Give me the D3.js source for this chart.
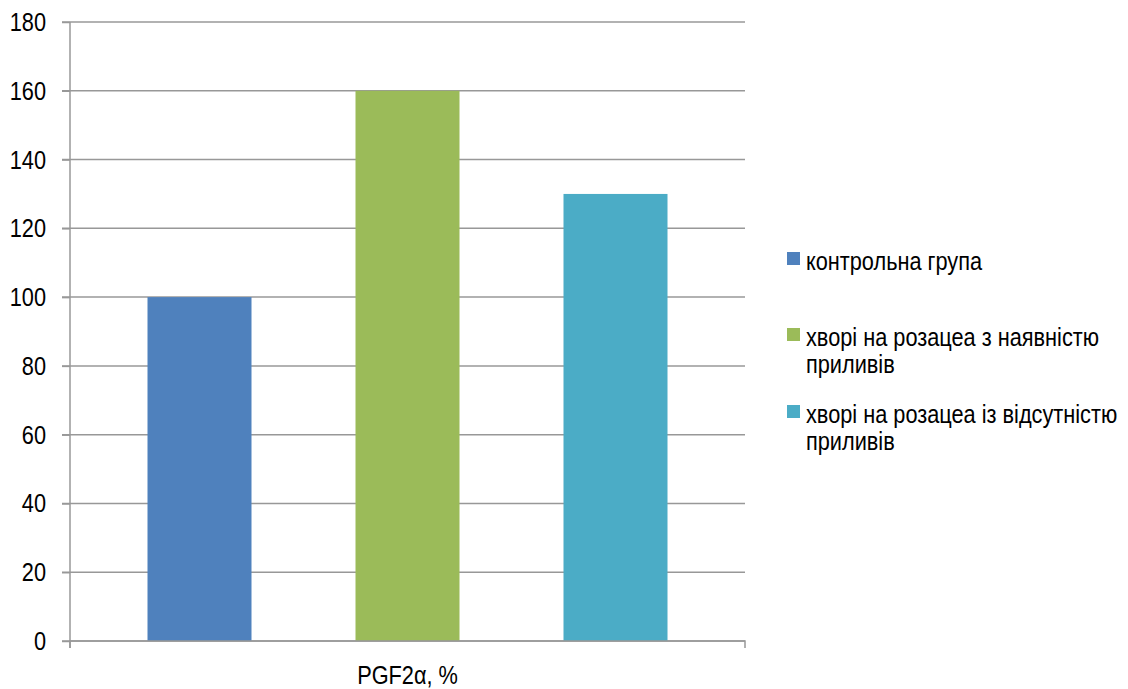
<!DOCTYPE html>
<html>
<head>
<meta charset="utf-8">
<script src="https://cdn.jsdelivr.net/npm/d3@7"></script>
<style>
  html, body { margin: 0; padding: 0; background: #fff; }
  svg text { font-family: "Liberation Sans", Arial, sans-serif; fill: #000; }
</style>
</head>
<body>
<svg id="chart" width="1128" height="689"></svg>
<script>
// Category and series
const categories = ["PGF2α, %"];
const seriesNames = [
  "контрольна група",
  "хворі на розацеа з наявністю приливів",
  "хворі на розацеа із відсутністю приливів"
];
const seriesValues = [100, 160, 130];
const seriesColors = ["#4f81bd", "#9bbb59", "#4bacc6"];
// Legend line breaks
const legendLines = [
  ["контрольна група"],
  ["хворі на розацеа з наявністю", "приливів"],
  ["хворі на розацеа із відсутністю", "приливів"]
];
const yTicks = [0, 20, 40, 60, 80, 100, 120, 140, 160, 180];

const svg = d3.select("#chart");
const plot = { left: 70, right: 745, top: 22, bottom: 641 };
const gridColor = "#989898";
const fontSize = 26.5;
const narrow = 0.82; // condensed letterforms

// Squeeze a text selection horizontally, keeping its anchor
function condense(sel) {
  sel.each(function () {
    const len = this.getComputedTextLength();
    d3.select(this).attr("textLength", len * narrow).attr("lengthAdjust", "spacingAndGlyphs");
  });
}

const y = d3.scaleLinear().domain([0, 180]).range([plot.bottom, plot.top]);
const x0 = d3.scaleBand().domain(categories).range([plot.left, plot.right]).padding(0);
const x1 = d3.scaleBand().domain(seriesNames).range([0, x0.bandwidth()])
  .paddingInner(0.5).paddingOuter(0.3726);

// Horizontal gridlines
svg.append("g")
  .selectAll("line")
  .data(yTicks)
  .join("line")
  .attr("x1", plot.left - 8)
  .attr("x2", plot.right)
  .attr("y1", d => y(d))
  .attr("y2", d => y(d))
  .attr("stroke", gridColor)
  .attr("stroke-width", 1.5);

// Y axis
const yAxis = svg.append("g")
  .attr("transform", `translate(${plot.left},0)`)
  .call(d3.axisLeft(y).tickValues(yTicks).tickSize(8).tickPadding(16));
yAxis.select(".domain").attr("stroke", gridColor).attr("stroke-width", 1.5)
  .attr("d", `M0,${plot.top}V${plot.bottom + 7}`);
yAxis.selectAll(".tick line").attr("stroke", gridColor).attr("stroke-width", 1.5);
yAxis.selectAll(".tick text").attr("font-size", fontSize).attr("fill", "#000")
  .attr("font-family", "Liberation Sans, Arial, sans-serif").call(condense);

// Bars
svg.append("g")
  .selectAll("rect")
  .data(seriesNames.map((s, i) => ({ s, v: seriesValues[i], c: seriesColors[i] })))
  .join("rect")
  .attr("x", d => x0(categories[0]) + x1(d.s))
  .attr("width", x1.bandwidth())
  .attr("y", d => y(d.v))
  .attr("height", d => y(0) - y(d.v))
  .attr("fill", d => d.c);

// X axis
const xAxis = svg.append("g")
  .attr("transform", `translate(0,${plot.bottom})`)
  .call(d3.axisBottom(x0).tickSize(0).tickPadding(24));
xAxis.select(".domain").attr("stroke", gridColor).attr("stroke-width", 1.5)
  .attr("d", `M${plot.left},7V0H${plot.right}V7`);
xAxis.selectAll(".tick text").attr("font-size", fontSize).attr("fill", "#000")
  .attr("font-family", "Liberation Sans, Arial, sans-serif").call(condense);

// Legend
const legend = svg.append("g").attr("transform", "translate(787,0)");
const legendBaseline = [270, 346, 423];
const lineGap = 27;
const entries = legend.selectAll("g")
  .data(seriesNames.map((s, i) => ({ s, c: seriesColors[i], lines: legendLines[i], base: legendBaseline[i] })))
  .join("g");
entries.append("rect")
  .attr("x", 0)
  .attr("y", d => d.base - 18)
  .attr("width", 13)
  .attr("height", 13)
  .attr("fill", d => d.c);
entries.each(function (d) {
  d3.select(this).selectAll("text")
    .data(d.lines)
    .join("text")
    .attr("x", 19)
    .attr("y", (t, j) => d.base + j * lineGap)
    .attr("font-size", fontSize)
    .text(t => t)
    .call(condense);
});
</script>
</body>
</html>
